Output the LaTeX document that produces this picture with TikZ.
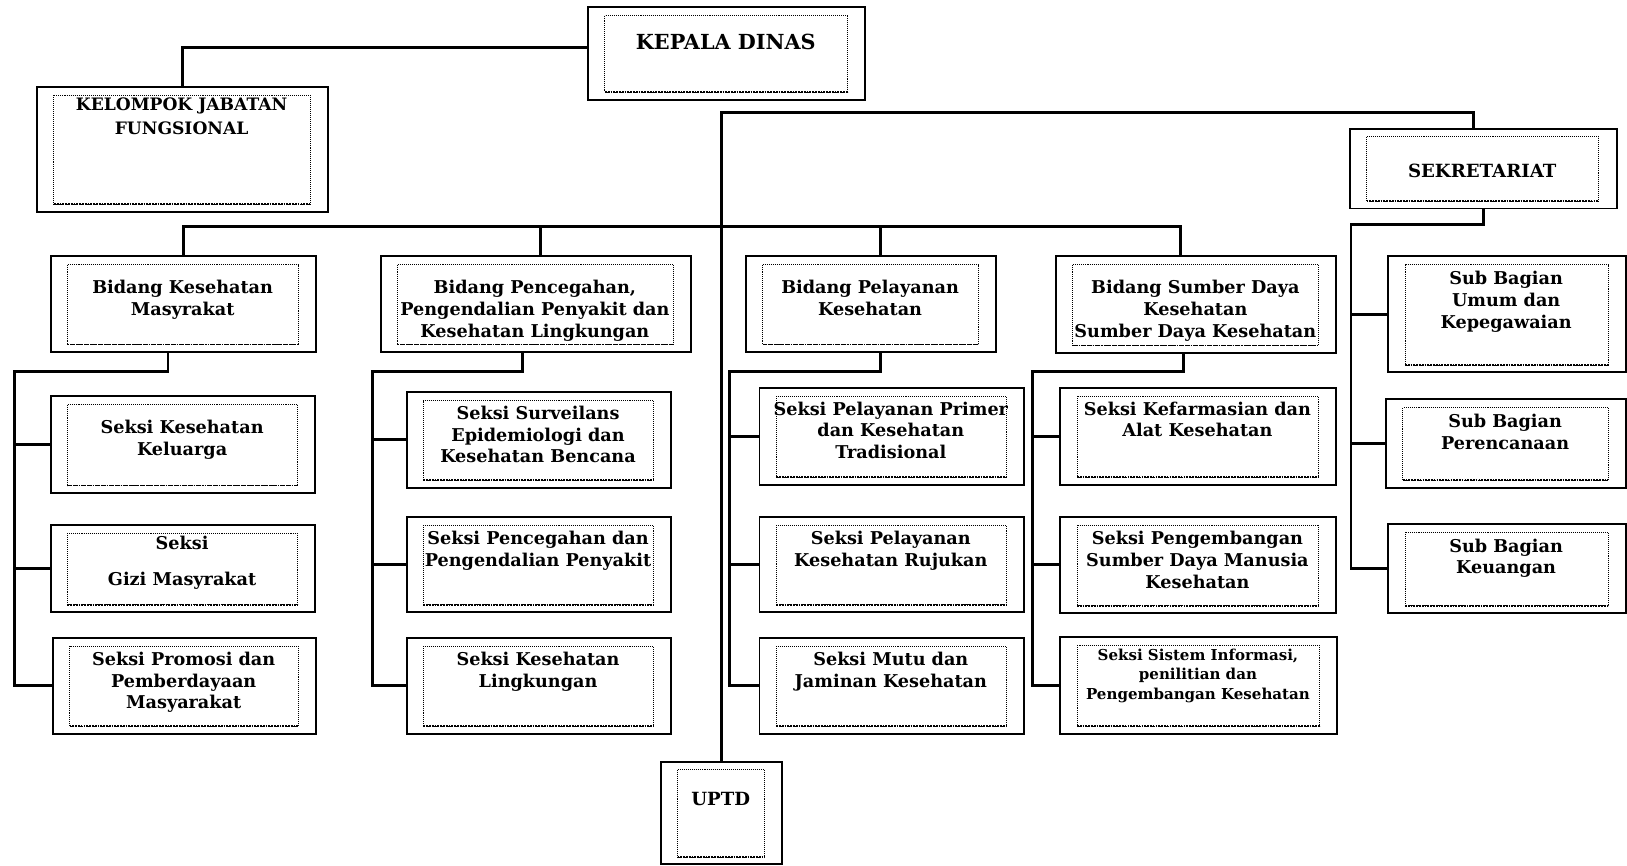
\documentclass[tikz,border=0pt]{standalone}
\usepackage{fontspec}
\setmainfont{DejaVu Serif}
\usetikzlibrary{calc}
\newcommand\orgbox[8]{%
  \node[outer, anchor=north west, minimum width={(#4-#2)*1pt}, minimum height={(#5-#3)*1pt}] (#1) at (#2,#3) {};
  \draw[inner] ($(#1.north west)+(17,9)$) rectangle ($(#1.south east)+(-18,-8)$);
  \draw[innerbottom] ($(#1.south west)+(17,-8)$) -- ($(#1.south east)+(-18,-8)$);
  \node[lbl, anchor=north, #7] (#1-t) at ({(#2+#4)/2},{#6-7}) {#8};
}
\begin{document}
\begin{tikzpicture}[x=1pt,y=-1pt,
  outer/.style={draw, line width=1.9pt, fill=white},
  inner/.style={draw, densely dotted, line width=0.9pt},
  innerbottom/.style={draw, densely dotted, line width=1.7pt},
  conn/.style={draw, line width=2.8pt},
  lbl/.style={align=center, inner sep=0pt, font=\bfseries\fontsize{17}{21}\selectfont},
  big/.style={font=\bfseries\fontsize{20}{24}\selectfont},
  caps/.style={font=\bfseries\fontsize{16.5}{23}\selectfont},
  capsb/.style={font=\bfseries\fontsize{17.5}{23}\selectfont},
  small/.style={font=\bfseries\fontsize{14.5}{19}\selectfont},
]
\useasboundingbox (0,0) rectangle (1568,834);

% top level
\orgbox{kd}{566}{6}{833}{95}{40}{big}{KEPALA DINAS}
\orgbox{kjf}{35}{83}{315}{203}{101}{caps}{KELOMPOK JABATAN\\FUNGSIONAL}
\orgbox{sek}{1300}{123}{1557}{200}{165}{capsb}{SEKRETARIAT}
\orgbox{uptd}{636}{733}{753}{832}{770}{capsb}{UPTD}

% bidang row
\orgbox{bkm}{48}{246}{304}{338}{277}{}{Bidang Kesehatan\\Masyrakat}
\orgbox{bpp}{366}{246}{665}{338}{277}{}{Bidang Pencegahan,\\Pengendalian Penyakit dan\\Kesehatan Lingkungan}
\orgbox{bpl}{718}{246}{959}{338}{277}{}{Bidang Pelayanan\\Kesehatan}
\orgbox{bsd}{1017}{246}{1287}{339}{277}{}{Bidang Sumber Daya\\Kesehatan\\Sumber Daya Kesehatan}

% column 1
\orgbox{skk}{48}{381}{303}{474}{412}{}{Seksi Kesehatan\\Keluarga}
\orgbox{sgm}{48}{505}{303}{589}{523}{}{Seksi\\[14pt]Gizi Masyrakat}
\orgbox{spm}{50}{614}{304}{706}{635}{}{Seksi Promosi dan\\Pemberdayaan\\Masyarakat}

% column 2
\orgbox{ssv}{391}{377}{646}{469}{398}{}{Seksi Surveilans\\Epidemiologi dan\\Kesehatan Bencana}
\orgbox{spp}{391}{497}{646}{589}{519}{}{Seksi Pencegahan dan\\Pengendalian Penyakit}
\orgbox{skl}{391}{614}{646}{706}{635}{}{Seksi Kesehatan\\Lingkungan}

% column 3
\orgbox{spk}{731}{373}{986}{466}{394}{}{Seksi Pelayanan Primer\\dan Kesehatan\\Tradisional}
\orgbox{skr}{731}{497}{986}{589}{519}{}{Seksi Pelayanan\\Kesehatan Rujukan}
\orgbox{smj}{731}{614}{986}{706}{635}{}{Seksi Mutu dan\\Jaminan Kesehatan}

% column 4
\orgbox{skf}{1021}{373}{1287}{466}{394}{}{Seksi Kefarmasian dan\\Alat Kesehatan}
\orgbox{ssdm}{1021}{497}{1287}{590}{519}{}{Seksi Pengembangan\\Sumber Daya Manusia\\Kesehatan}
\orgbox{ssi}{1021}{613}{1288}{706}{632}{small}{Seksi Sistem Informasi,\\penilitian dan\\Pengembangan Kesehatan}

% column 5
\orgbox{sbu}{1337}{246}{1566}{358}{268}{}{Sub Bagian\\Umum dan\\Kepegawaian}
\orgbox{sbp}{1335}{384}{1566}{469}{406}{}{Sub Bagian\\Perencanaan}
\orgbox{sbk}{1337}{504}{1566}{590}{526}{}{Sub Bagian\\Keuangan}

% connectors
\coordinate (topy) at (0,108);
\coordinate (busy) at (0,218);
\draw[conn] ([yshift=6pt]kd.west) -| (kjf.north);
\coordinate (sekin) at ([xshift=-9pt]sek.north);
\draw[conn] (uptd.north) -- (uptd.north |- topy) -| (sekin);

\coordinate (bsdin) at ([xshift=-15pt]bsd.north);
\coordinate (bppin) at ([xshift=4.5pt]bpp.north);
\coordinate (bplin) at ([xshift=9.5pt]bpl.north);
\draw[conn] (bkm.north) -- (bkm.north |- busy) -- (bsdin |- busy) -- (bsdin);
\draw[conn] (bppin) -- (bppin |- busy);
\draw[conn] (bplin) -- (bplin |- busy);

% column 1 connectors
\coordinate (k1) at (14,358);
\coordinate (k1top) at ([xshift=-15pt]bkm.south);
\draw[conn] (k1top) |- (k1) |- (spm.west);
\draw[conn] (k1 |- skk.west) -- (skk.west);
\draw[conn] (k1 |- sgm.west) -- (sgm.west);

% column 2 connectors
\coordinate (k2) at (359,358);
\coordinate (k2top) at ([xshift=-12.5pt]bpp.south);
\draw[conn] (k2top) |- (k2) |- (skl.west);
\draw[conn] (k2 |- ssv.west) -- (ssv.west);
\draw[conn] (k2 |- spp.west) -- (spp.west);

% column 3 connectors
\coordinate (k3) at (703,358);
\coordinate (k3top) at ([xshift=9.5pt]bpl.south);
\draw[conn] (k3top) |- (k3) |- (smj.west);
\draw[conn] (k3 |- spk.west) -- (spk.west);
\draw[conn] (k3 |- skr.west) -- (skr.west);

% column 4 connectors
\coordinate (k4) at (995,358);
\coordinate (k4top) at ([xshift=-12pt]bsd.south);
\draw[conn] (k4top) |- (k4) |- (ssi.west);
\draw[conn] (k4 |- skf.west) -- (skf.west);
\draw[conn] (k4 |- ssdm.west) -- (ssdm.west);

% column 5 connectors
\coordinate (k5) at (1302,216);
\draw[conn] (sek.south) |- (k5) |- (sbk.west);
\draw[conn] (k5 |- sbu.west) -- (sbu.west);
\draw[conn] (k5 |- sbp.west) -- (sbp.west);
\end{tikzpicture}
\end{document}
